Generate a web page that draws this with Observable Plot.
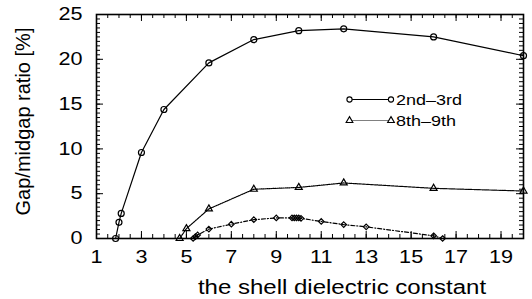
<!DOCTYPE html>
<html>
<head>
<meta charset="utf-8">
<script src="https://cdn.jsdelivr.net/npm/d3@7"></script>
<script src="https://cdn.jsdelivr.net/npm/@observablehq/plot@0.6"></script>
<style>
  html, body { margin: 0; padding: 0; background: #fff; }
  #wrap { position: relative; width: 532px; height: 299px; font-family: "Liberation Sans", Arial, sans-serif; }
  #legend { position: absolute; left: 0; top: 0; pointer-events: none; }
</style>
</head>
<body>
<div id="wrap"></div>
<script>
// ---- data ----
const s23X = [1.85, 2.0, 2.1, 3, 4, 6, 8, 10, 12, 16, 20];
const s23Y = [0, 1.8, 2.8, 9.6, 14.4, 19.6, 22.2, 23.2, 23.4, 22.5, 20.4];

const s89X = [4.7, 5, 6, 8, 10, 12, 16, 20];
const s89Y = [0, 1.1, 3.3, 5.5, 5.7, 6.2, 5.6, 5.3];

const s3X = [5.3, 5.4, 5.5, 6, 7, 8, 9, 9.7, 9.8, 9.9, 10, 10.1, 11, 12, 13, 16, 16.4];
const s3Y = [0, 0.2, 0.4, 1.05, 1.6, 2.1, 2.3, 2.3, 2.3, 2.3, 2.3, 2.25, 1.9, 1.55, 1.3, 0.3, 0];

const xTickLabels = [1, 3, 5, 7, 9, 11, 13, 15, 17, 19];
const yTickLabels = [0, 5, 10, 15, 20, 25];
const xMinorTicks = d3.range(1, 20, 0.5);
const yMinorTicks = d3.range(0, 25, 0.5);

const seriesNames = ["2nd\u20133rd", "8th\u20139th"];
const xLabel = "the shell dielectric constant";
const yLabel = "Gap/midgap ratio [%]";

const toRows = (xs, ys) => xs.map((x, i) => ({x, y: ys[i]}));
const d23 = toRows(s23X, s23Y);
const d89 = toRows(s89X, s89Y);
const d3s = toRows(s3X, s3Y);

const W = 532, H = 299;
const mL = 96, mR = 9, mT = 14, mB = 61;
const xPerPx = 19 / (W - mL - mR);
const yPerPx = 25 / (H - mT - mB);
const majLen = 7, minLen = 4;

const chart = Plot.plot({
  width: W, height: H,
  marginLeft: mL, marginRight: mR, marginTop: mT, marginBottom: mB,
  style: {fontFamily: "Liberation Sans, Arial, sans-serif", color: "black", background: "white"},
  x: {domain: [1, 20]},
  y: {domain: [0, 25]},
  marks: [
    // inward ticks, all four sides
    Plot.ruleX(xMinorTicks, {x: d => d, y1: 0, y2: minLen * yPerPx, stroke: "black", strokeWidth: 1}),
    Plot.ruleX(xTickLabels, {x: d => d, y1: 0, y2: majLen * yPerPx, stroke: "black", strokeWidth: 1}),
    Plot.ruleX(xMinorTicks, {x: d => d, y1: 25, y2: 25 - minLen * yPerPx, stroke: "black", strokeWidth: 1}),
    Plot.ruleX(xTickLabels, {x: d => d, y1: 25, y2: 25 - majLen * yPerPx, stroke: "black", strokeWidth: 1}),
    Plot.ruleY(yMinorTicks, {y: d => d, x1: 1, x2: 1 + minLen * xPerPx, stroke: "black", strokeWidth: 1}),
    Plot.ruleY(yTickLabels, {y: d => d, x1: 1, x2: 1 + majLen * xPerPx, stroke: "black", strokeWidth: 1}),
    Plot.ruleY(yMinorTicks, {y: d => d, x1: 20, x2: 20 - minLen * xPerPx, stroke: "black", strokeWidth: 1}),
    Plot.ruleY(yTickLabels, {y: d => d, x1: 20, x2: 20 - majLen * xPerPx, stroke: "black", strokeWidth: 1}),
    Plot.axisX({ticks: xTickLabels, tickSize: 0, tickPadding: 12, fontSize: 18, label: null, tickFormat: d => String(d)}),
    Plot.axisY({ticks: yTickLabels, tickSize: 0, tickPadding: 14, fontSize: 18, label: null, tickFormat: d => String(d)}),
    // series
    Plot.line(d23, {x: "x", y: "y", stroke: "black", strokeWidth: 1.2}),
    Plot.dot(d23, {x: "x", y: "y", symbol: "circle", r: 3, stroke: "black", fill: "none", strokeWidth: 1.2}),
    Plot.line(d89, {x: "x", y: "y", stroke: "black", strokeWidth: 1.2, strokeDasharray: "1,1"}),
    Plot.dot(d89, {x: "x", y: "y", symbol: "triangle", r: 2.6, stroke: "black", fill: "none", strokeWidth: 1.2}),
    Plot.line(d3s, {x: "x", y: "y", stroke: "black", strokeWidth: 1.2, strokeDasharray: "4,2,1,2"}),
    Plot.dot(d3s, {x: "x", y: "y", symbol: "diamond2", r: 2.5, stroke: "black", fill: "none", strokeWidth: 1.2}),
    Plot.frame({stroke: "black", strokeWidth: 1.6}),
    // axis titles
    Plot.text([xLabel], {frameAnchor: "bottom", textAnchor: "middle", dx: 32, dy: 55, lineAnchor: "bottom", fontSize: 20, fill: "black"}),
    Plot.text([yLabel], {frameAnchor: "left", textAnchor: "middle", rotate: -90, dx: -67, dy: -5, lineAnchor: "bottom", fontSize: 20, fill: "black"})
  ]
});

const wrap = document.getElementById("wrap");
wrap.appendChild(chart);

// legend overlay
const leg = d3.select(wrap).append("svg").attr("id", "legend").attr("width", W).attr("height", H);
const rows = [
  {name: seriesNames[0], y: 99.5, dash: null, sym: "circle"},
  {name: seriesNames[1], y: 120.5, dash: "1,1", sym: "triangle"}
];
const lx1 = 349.5, lx2 = 391;
rows.forEach(r => {
  leg.append("line").attr("x1", lx1).attr("x2", lx2).attr("y1", r.y).attr("y2", r.y)
    .attr("stroke", "black").attr("stroke-width", 1.1).attr("stroke-dasharray", r.dash);
  [lx1, lx2].forEach(cx => {
    if (r.sym === "circle") {
      leg.append("circle").attr("cx", cx).attr("cy", r.y).attr("r", 2.6)
        .attr("fill", "white").attr("stroke", "black").attr("stroke-width", 1.1);
    } else {
      leg.append("path").attr("d", d3.symbol(d3.symbolTriangle, Math.PI * 2.5 * 2.5)())
        .attr("transform", `translate(${cx},${r.y})`)
        .attr("fill", "white").attr("stroke", "black").attr("stroke-width", 1.1);
    }
  });
  leg.append("text").attr("x", 396).attr("y", r.y + 5.5).attr("font-size", 15)
    .attr("font-family", "Liberation Sans, Arial, sans-serif").attr("fill", "black").text(r.name);
});

// horizontal stretch of text, as in the reference
function stretch(root, k) {
  root.querySelectorAll("text").forEach(t => {
    const tr = (t.getAttribute("transform") || "") + (t.parentNode.getAttribute && (t.parentNode.getAttribute("transform") || ""));
    if (tr.includes("rotate") || t.textContent === yLabel) return;
    const len = t.getComputedTextLength();
    if (len > 0) {
      t.setAttribute("textLength", len * k);
      t.setAttribute("lengthAdjust", "spacingAndGlyphs");
    }
  });
}
stretch(wrap, 1.2);
</script>
</body>
</html>
